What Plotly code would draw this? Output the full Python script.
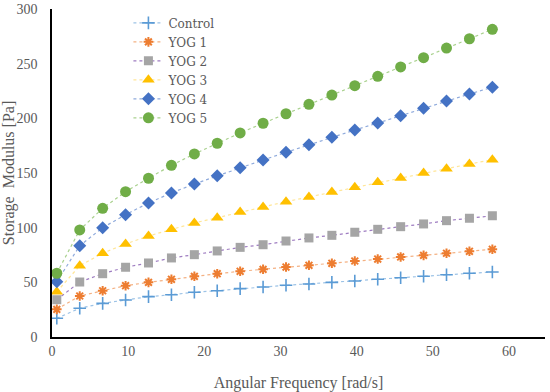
import plotly.graph_objects as go

freq = [0.63, 3.64, 6.65, 9.66, 12.67, 15.68, 18.69, 21.69, 24.70, 27.71,
        30.72, 33.73, 36.74, 39.75, 42.76, 45.77, 48.78, 51.79, 54.80, 57.81]

control = [17.1, 26.3, 30.8, 33.8, 36.9, 38.7, 40.9, 42.3, 44.2, 45.7,
           47.3, 48.5, 50.0, 51.2, 52.8, 54.2, 55.5, 57.0, 58.3, 59.5]
yog1 = [25.3, 37.5, 42.3, 46.9, 50.0, 52.8, 55.5, 57.9, 60.1, 61.9,
        64.0, 65.6, 67.4, 69.5, 71.3, 73.2, 74.7, 76.6, 78.4, 80.2]
yog2 = [34.1, 50.3, 57.9, 63.8, 67.7, 72.3, 75.3, 78.7, 82.0, 84.4,
        87.8, 90.6, 93.0, 95.8, 98.5, 100.9, 103.4, 106.4, 108.6, 110.9]
yog3 = [41.4, 65.2, 76.6, 85.1, 92.4, 98.5, 104.3, 109.1, 114.3, 118.9,
        123.8, 128.1, 132.6, 136.9, 141.5, 145.4, 150.0, 153.9, 158.2, 162.2]
yog4 = [50.6, 83.5, 100.0, 111.9, 122.6, 131.7, 140.0, 147.5, 154.9, 161.9,
        168.9, 175.9, 182.7, 189.3, 195.7, 202.4, 209.2, 215.9, 222.3, 228.4]
yog5 = [58.3, 97.9, 117.7, 132.9, 145.2, 157.0, 167.4, 177.2, 186.6, 195.5,
        204.2, 212.8, 221.3, 229.9, 238.4, 247.0, 255.5, 264.3, 272.8, 281.4]

series = [
    ("Control", control, "#9DC3E6", dict(symbol="cross-thin-open", size=9, color="#5B9BD5", line=dict(width=1.6, color="#5B9BD5"))),
    ("YOG 1", yog1, "#F4B183", dict(symbol="asterisk-open", size=8, color="#ED7D31", line=dict(width=2, color="#ED7D31"))),
    ("YOG 2", yog2, "#9E7CC1", dict(symbol="square", size=9, color="#A5A5A5")),
    ("YOG 3", yog3, "#FFE699", dict(symbol="triangle-up", size=11, color="#FFC000")),
    ("YOG 4", yog4, "#8FAADC", dict(symbol="diamond", size=10, color="#4472C4")),
    ("YOG 5", yog5, "#A9D18E", dict(symbol="circle", size=11, color="#70AD47")),
]

fig = go.Figure()
for name, vals, lc, mk in series:
    fig.add_trace(go.Scatter(x=freq, y=vals, name=name, mode="lines+markers",
                             line=dict(color=lc, width=1.2, dash="dot"),
                             marker=mk))

font_family = "Liberation Serif"
legend_family = "DejaVu Serif"
fig.update_layout(
    width=550, height=392,
    margin=dict(l=52, r=5, t=9, b=55),
    paper_bgcolor="white", plot_bgcolor="white",
    font=dict(family=font_family, color="#595959", size=14),
    showlegend=True,
    legend=dict(x=0.155, y=1.002, xanchor="left", yanchor="top",
                bgcolor="rgba(0,0,0,0)", font=dict(family=legend_family, size=12, color="#595959"),
                tracegroupgap=0, itemwidth=30),
)
fig.update_xaxes(range=[0, 64.72], tickvals=[0, 10, 20, 30, 40, 50, 60], automargin=False,
                 showgrid=False, zeroline=False, showline=True, linecolor="black", linewidth=1.5,
                 ticks="", tickfont=dict(family=font_family, size=14, color="#595959"),
                 title=dict(text="Angular Frequency [rad/s]", font=dict(family=font_family, size=16, color="#595959"), standoff=19))
fig.update_yaxes(range=[0, 300], tickvals=[0, 50, 100, 150, 200, 250, 300], automargin=False,
                 showgrid=False, zeroline=False, showline=True, linecolor="black", linewidth=1.5,
                 ticks="", ticklabelstandoff=10, tickfont=dict(family=font_family, size=14, color="#595959"),
                 title=dict(text="Storage  Modulus [Pa]", font=dict(family=font_family, size=16, color="#595959"), standoff=6))

fig.write_html("out.html", config={"displayModeBar": False},
               post_script="document.body.style.margin='0';")
